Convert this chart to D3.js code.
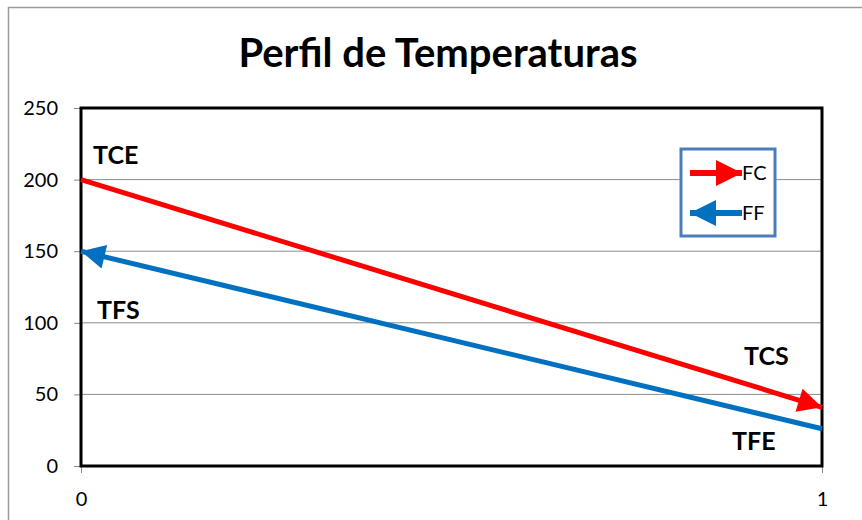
<!DOCTYPE html>
<html><head><meta charset="utf-8">
<script src="https://cdn.jsdelivr.net/npm/d3@7"></script>
<style>body{margin:0;background:#fff}svg{display:block}text{font-family:Lato,"Open Sans",sans-serif}</style>
</head><body>
<svg id="c" width="862" height="520"></svg>
<script>
const xPos = [0, 1];
const fcValues = [200, 41];   // hot fluid, flows 0 -> 1
const ffValues = [150, 26];   // cold fluid, flows 1 -> 0
const yTicks = [0, 50, 100, 150, 200, 250];
const xTicks = [0, 1];
const pointLabels = [
  {t: "TCE", x: 0, y: 200, dx: 12, dy: -16},
  {t: "TFS", x: 0, y: 150, dx: 16, dy: 68},
  {t: "TCS", x: 1, y: 41, dx: -78, dy: -42},
  {t: "TFE", x: 1, y: 26, dx: -90, dy: 21}
];

const svg = d3.select("#c");
const m = {l: 81, r: 822, t: 108, b: 466};
const x = d3.scaleLinear().domain([0, 1]).range([m.l, m.r]);
const y = d3.scaleLinear().domain([0, 250]).range([m.b, m.t]);

svg.append("rect").attr("x", 8.5).attr("y", 7.5).attr("width", 900).attr("height", 600)
  .attr("fill", "none").attr("stroke", "#9a9a9a").attr("stroke-width", 1.5);

svg.append("text").attr("x", 438).attr("y", 67).attr("text-anchor", "middle")
  .style("font-size", "40px").attr("font-weight", "bold").attr("fill", "#000").text("Perfil de Temperaturas");

svg.append("g").selectAll("line").data(yTicks.filter(d => d > 0 && d < 250)).join("line")
  .attr("x1", m.l).attr("x2", m.r).attr("y1", d => y(d)).attr("y2", d => y(d))
  .attr("stroke", "#8c8c8c").attr("stroke-width", 1);

const ya = svg.append("g").attr("transform", `translate(${m.l},0)`)
  .call(d3.axisLeft(y).tickValues(yTicks).tickSize(7).tickPadding(16));
ya.select(".domain").remove();
ya.selectAll("line").attr("stroke", "#888");
ya.selectAll("text").style("font-size", "20px").attr("fill", "#000").style("font-family", "Lato,sans-serif");

const xa = svg.append("g").attr("transform", `translate(0,${m.b})`)
  .call(d3.axisBottom(x).tickValues(xTicks).tickFormat(d3.format("d")).tickSize(7).tickPadding(19));
xa.select(".domain").remove();
xa.selectAll("line").attr("stroke", "#888");
xa.selectAll("text").style("font-size", "20px").attr("fill", "#000").style("font-family", "Lato,sans-serif");

svg.append("rect").attr("x", m.l).attr("y", m.t).attr("width", m.r - m.l).attr("height", m.b - m.t)
  .attr("fill", "none").attr("stroke", "#000").attr("stroke-width", 3);

const defs = svg.append("defs");
function marker(id, color, w, h) {
  defs.append("marker").attr("id", id).attr("viewBox", "0 0 10 10")
    .attr("refX", 10).attr("refY", 5).attr("markerUnits", "userSpaceOnUse")
    .attr("markerWidth", w).attr("markerHeight", h).attr("orient", "auto")
    .append("path").attr("d", "M0,0 L10,5 L0,10 Z").attr("fill", color);
}
marker("aRed", "#ff0000", 30, 24);
marker("aBlue", "#0070c0", 30, 24);
marker("lRed", "#ff0000", 26, 26);
marker("lBlue", "#0070c0", 26, 26);

const line = d3.line().x(d => x(d[0])).y(d => y(d[1]));
svg.append("path").datum(xPos.map((v, i) => [v, fcValues[i]]))
  .attr("d", line).attr("fill", "none").attr("stroke", "#ff0000").attr("stroke-width", 5)
  .attr("marker-end", "url(#aRed)");
svg.append("path").datum(xPos.map((v, i) => [v, ffValues[i]]).reverse())
  .attr("d", line).attr("fill", "none").attr("stroke", "#0070c0").attr("stroke-width", 5)
  .attr("marker-end", "url(#aBlue)");

svg.append("g").selectAll("text").data(pointLabels).join("text")
  .attr("x", d => x(d.x) + d.dx).attr("y", d => y(d.y) + d.dy)
  .style("font-size", "25px").attr("font-weight", "bold").attr("fill", "#000").text(d => d.t);

const lg = svg.append("g");
lg.append("rect").attr("x", 681).attr("y", 149).attr("width", 94).attr("height", 87)
  .attr("fill", "#fff").attr("stroke", "#4a7ebb").attr("stroke-width", 3);
const legendItems = [{t: "FC", c: "#ff0000", m: "lRed", dir: 1, yy: 173}, {t: "FF", c: "#0070c0", m: "lBlue", dir: -1, yy: 213}];
legendItems.forEach(d => {
  const x0 = 690, x1 = 742;
  lg.append("line").attr("x1", d.dir > 0 ? x0 : x1).attr("x2", d.dir > 0 ? x1 : x0)
    .attr("y1", d.yy).attr("y2", d.yy).attr("stroke", d.c).attr("stroke-width", 6)
    .attr("marker-end", `url(#${d.m})`);
  lg.append("text").attr("x", 742).attr("y", d.yy + 7).style("font-size", "20px").attr("fill", "#000").text(d.t);
});
</script>
</body></html>
